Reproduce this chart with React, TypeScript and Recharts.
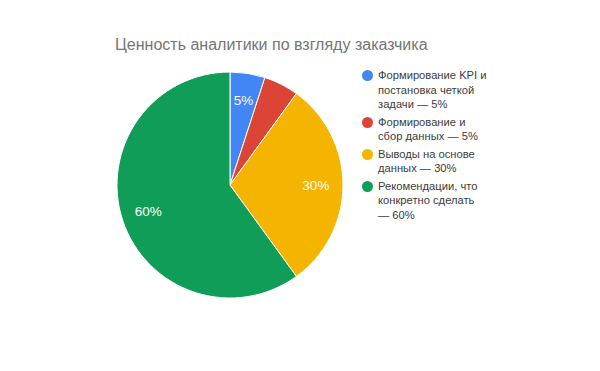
import { PieChart, Pie, Cell, Legend } from "recharts";

const categories = [
  "Формирование KPI и\nпостановка четкой\nзадачи — 5%",
  "Формирование и\nсбор данных — 5%",
  "Выводы на основе\nданных — 30%",
  "Рекомендации, что\nконкретно сделать\n— 60%",
];
const values = [5, 5, 30, 60];
const colors = ["#4285f4", "#db4437", "#f4b400", "#0f9d58"];
// the red slice has no label in the original
const showLabel = [true, false, true, true];

const data = categories.map((name, i) => ({ name, value: values[i] }));

const RADIAN = Math.PI / 180;

function renderLabel(props: any) {
  const { cx, cy, midAngle, outerRadius, percent, index } = props;
  if (!showLabel[index]) return null;
  const r = outerRadius * 0.76;
  const x = cx + r * Math.cos(-midAngle * RADIAN);
  const y = cy + r * Math.sin(-midAngle * RADIAN);
  return (
    <text
      x={x}
      y={y}
      fill="#ffffff"
      fontSize={13.5}
      textAnchor="middle"
      dominantBaseline="central"
    >
      {`${Math.round(percent * 100)}%`}
    </text>
  );
}

function LegendContent() {
  return (
    <div style={{ display: "flex", flexDirection: "column", gap: 3 }}>
      {data.map((d, i) => (
        <div key={d.name} style={{ display: "flex", alignItems: "flex-start" }}>
          <div
            style={{
              width: 11,
              height: 11,
              borderRadius: "50%",
              backgroundColor: colors[i],
              marginTop: 2,
              marginRight: 5,
              flexShrink: 0,
            }}
          />
          <span
            style={{
              whiteSpace: "pre-line",
              fontSize: 11.2,
              lineHeight: "14.5px",
              color: "#3c3c3c",
            }}
          >
            {d.name}
          </span>
        </div>
      ))}
    </div>
  );
}

export default function App() {
  return (
    <div
      style={{
        position: "absolute",
        left: 0,
        top: 0,
        width: 600,
        height: 371,
        background: "#ffffff",
        fontFamily: "Arial, 'Liberation Sans', sans-serif",
      }}
    >
      <div
        style={{
          position: "absolute",
          left: 115,
          top: 36,
          fontSize: 16,
          color: "#757575",
          whiteSpace: "nowrap",
        }}
      >
        Ценность аналитики по взгляду заказчика
      </div>
      <PieChart
        width={600}
        height={371}
        margin={{ top: 0, right: 0, bottom: 0, left: 0 }}
      >
        <Pie
          data={data}
          dataKey="value"
          nameKey="name"
          cx={230}
          cy={185}
          outerRadius={113}
          startAngle={90}
          endAngle={-270}
          stroke="#ffffff"
          strokeWidth={1}
          label={renderLabel}
          labelLine={false}
          isAnimationActive={false}
        >
          {data.map((_, i) => (
            <Cell key={`cell-${i}`} fill={colors[i]} />
          ))}
        </Pie>
        <Legend
          layout="vertical"
          verticalAlign="top"
          align="right"
          content={<LegendContent />}
          wrapperStyle={{ left: 362, top: 68, width: 150 }}
        />
      </PieChart>
    </div>
  );
}
